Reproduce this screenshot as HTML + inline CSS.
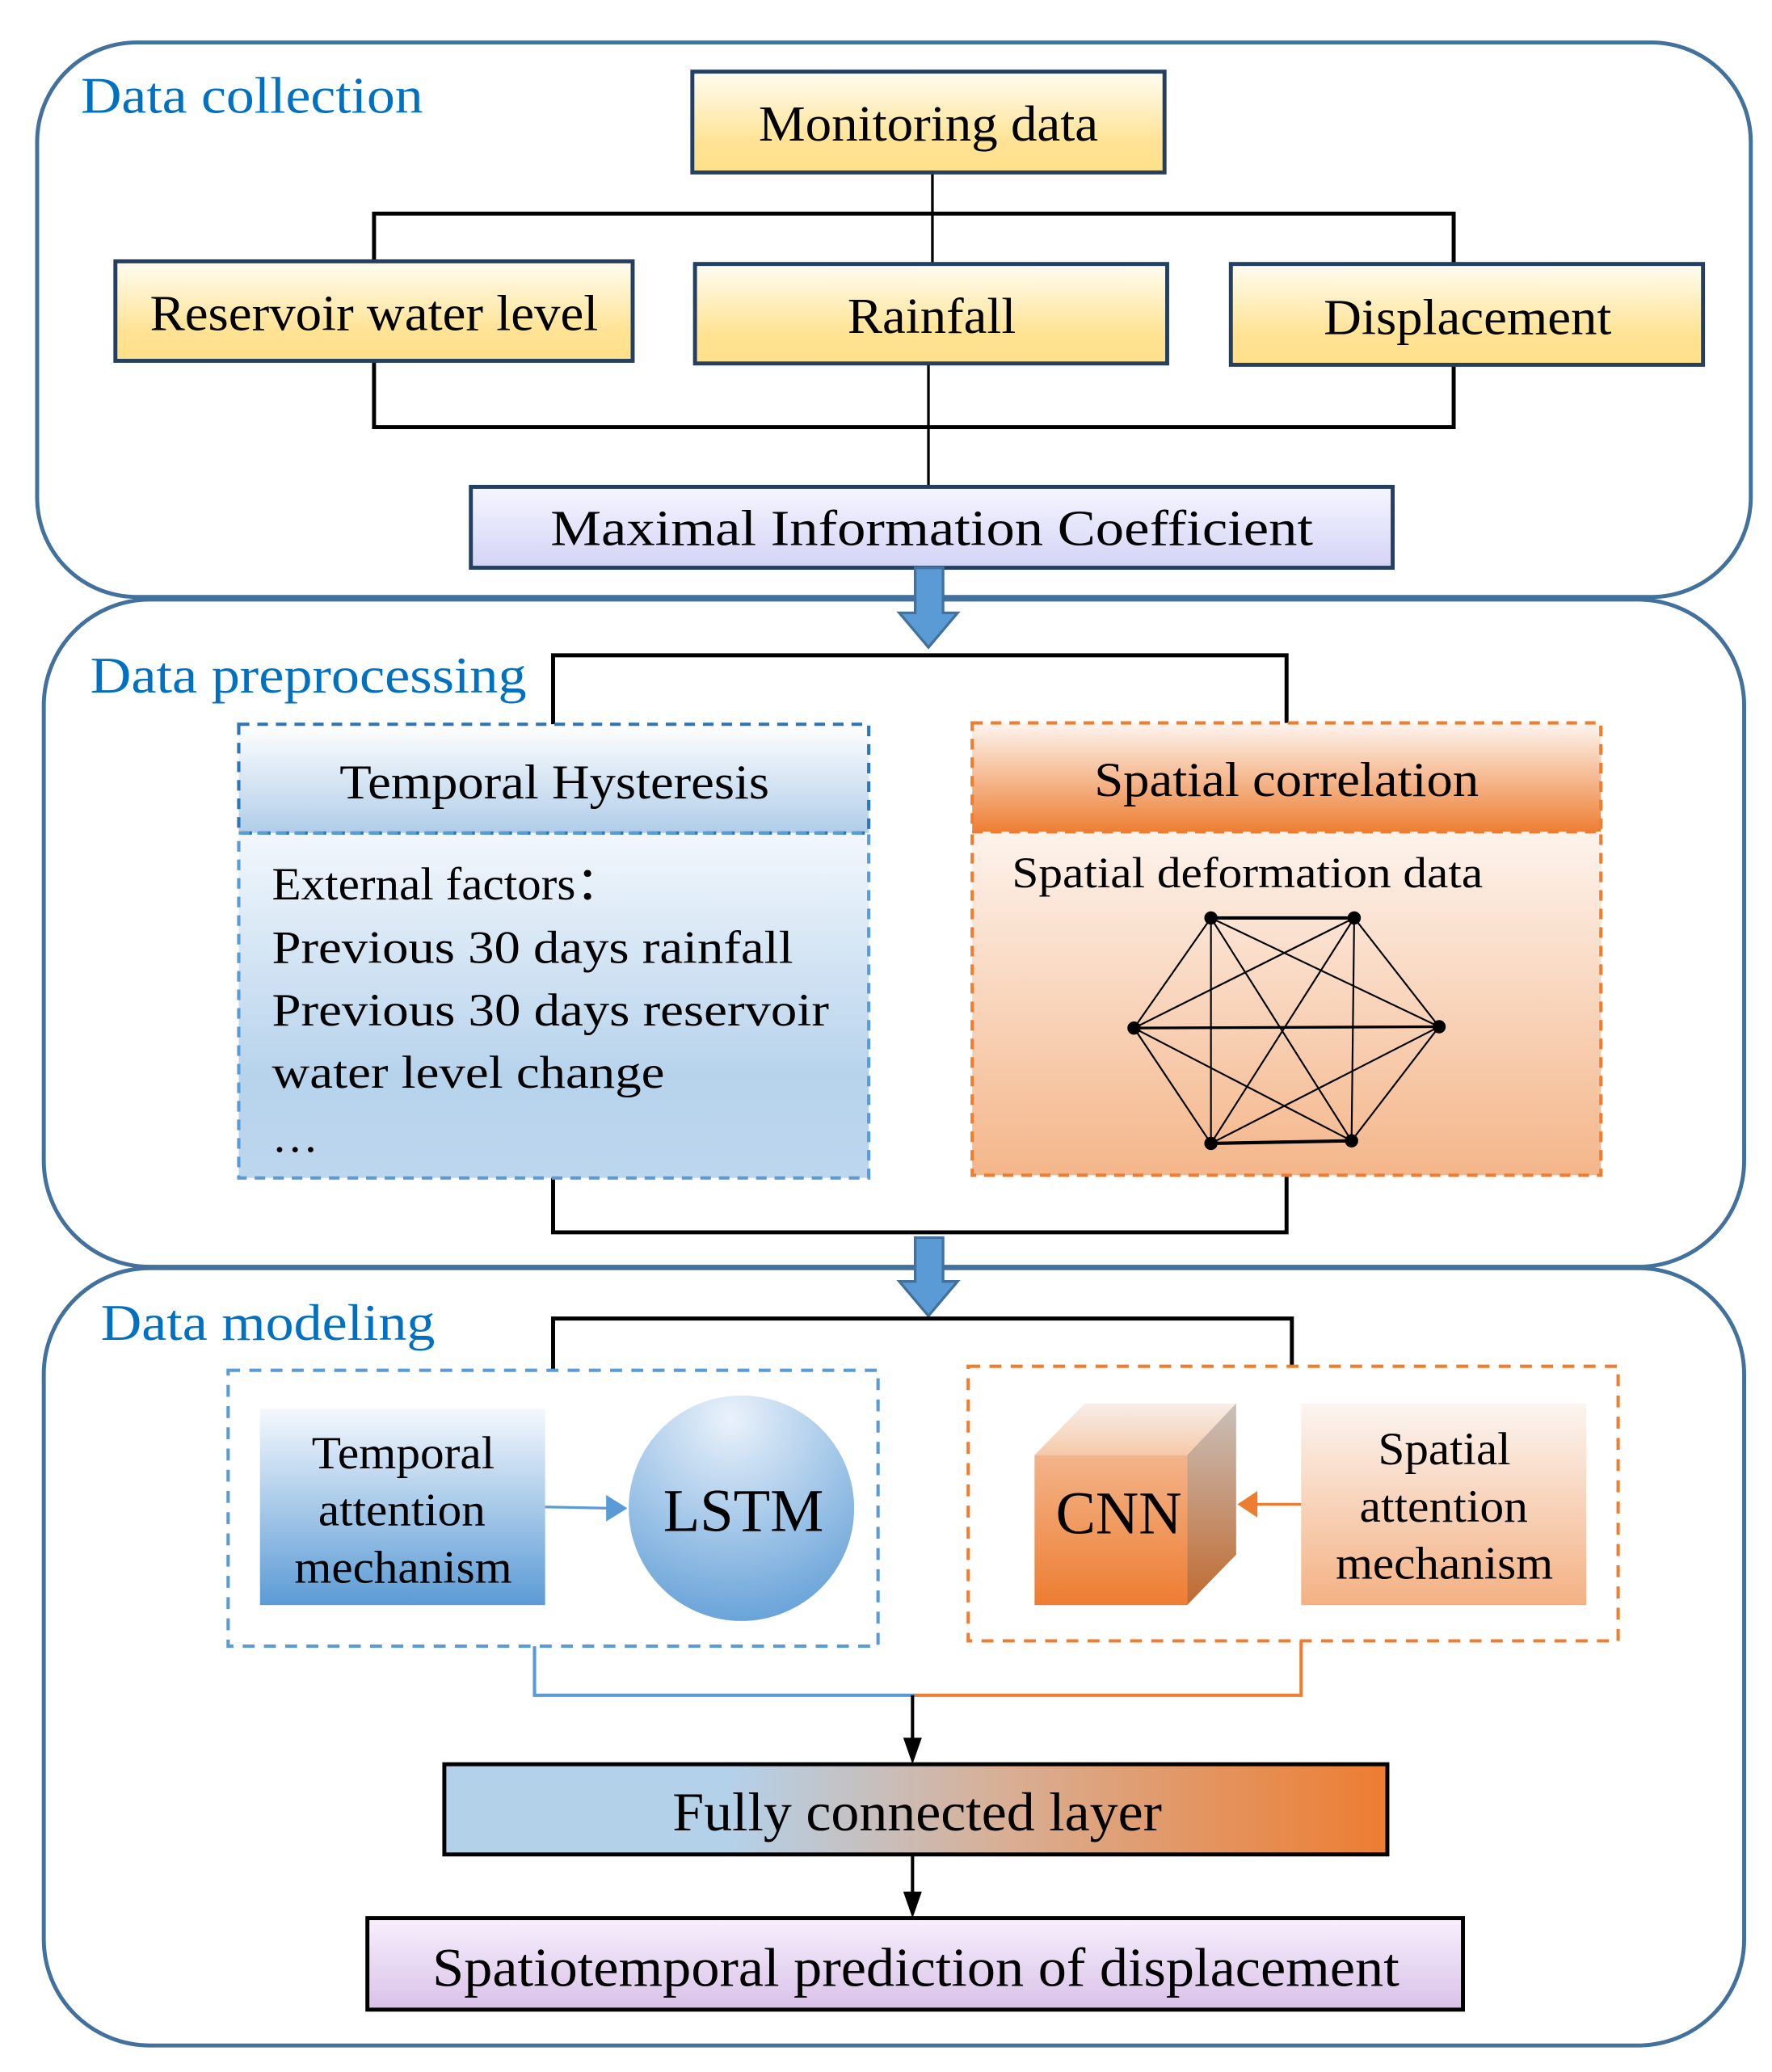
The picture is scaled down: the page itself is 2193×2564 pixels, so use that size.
<!DOCTYPE html>
<html><head><meta charset="utf-8"><style>
html,body{margin:0;padding:0;background:#fff}
svg{display:block}
text{font-family:"Liberation Serif",serif}
</style></head><body>
<svg width="2193" height="2564" viewBox="0 0 1336 1562" xmlns="http://www.w3.org/2000/svg">
<defs>
<linearGradient id="yel" x1="0" y1="0" x2="0" y2="1"><stop offset="0" stop-color="#fffdf2"/><stop offset="0.7" stop-color="#ffe394"/><stop offset="1" stop-color="#ffe08a"/></linearGradient>
<linearGradient id="lav" x1="0" y1="0" x2="0" y2="1"><stop offset="0" stop-color="#f6f6ff"/><stop offset="1" stop-color="#d3d3f6"/></linearGradient>
<linearGradient id="bhead" x1="0" y1="0" x2="0" y2="1"><stop offset="0" stop-color="#ffffff"/><stop offset="1" stop-color="#b0cde8"/></linearGradient>
<linearGradient id="bbody" x1="0" y1="0" x2="0" y2="1"><stop offset="0" stop-color="#f2f7fc"/><stop offset="0.7" stop-color="#b7d3ec"/><stop offset="1" stop-color="#bdd6ee"/></linearGradient>
<linearGradient id="ohead" x1="0" y1="0" x2="0" y2="1"><stop offset="0" stop-color="#fdf5f0"/><stop offset="1" stop-color="#ee7f34"/></linearGradient>
<linearGradient id="obody" x1="0" y1="0" x2="0" y2="1"><stop offset="0" stop-color="#fdf3ec"/><stop offset="1" stop-color="#f4b68a"/></linearGradient>
<linearGradient id="tatt" x1="0" y1="0" x2="0" y2="1"><stop offset="0" stop-color="#f4f8fd"/><stop offset="1" stop-color="#5b9bd5"/></linearGradient>
<radialGradient id="lstm" cx="0.45" cy="0.1" r="1"><stop offset="0" stop-color="#eaf2fb"/><stop offset="1" stop-color="#5b9bd5"/></radialGradient>
<linearGradient id="satt" x1="0" y1="0" x2="0" y2="1"><stop offset="0" stop-color="#fbf5f1"/><stop offset="1" stop-color="#f4b183"/></linearGradient>
<linearGradient id="cfront" x1="0" y1="0" x2="0" y2="1"><stop offset="0" stop-color="#f3b48a"/><stop offset="1" stop-color="#ed7d31"/></linearGradient>
<linearGradient id="ctop" x1="0" y1="0" x2="0" y2="1"><stop offset="0" stop-color="#f7eee9"/><stop offset="1" stop-color="#f5c9a9"/></linearGradient>
<linearGradient id="cside" x1="0" y1="0" x2="0" y2="1"><stop offset="0" stop-color="#c9c0ba"/><stop offset="1" stop-color="#c06a30"/></linearGradient>
<linearGradient id="fc" x1="0" y1="0" x2="1" y2="0"><stop offset="0" stop-color="#b4d1ea"/><stop offset="0.3" stop-color="#b4d1ea"/><stop offset="0.6" stop-color="#d9ae93"/><stop offset="1" stop-color="#ed7d31"/></linearGradient>
<linearGradient id="pur" x1="0" y1="0" x2="0" y2="1"><stop offset="0" stop-color="#f7f0fc"/><stop offset="1" stop-color="#d9c1e8"/></linearGradient>
</defs>

<rect x="28" y="32" width="1292" height="418" rx="75" fill="#fff" stroke="#41719c" stroke-width="3"/>
<rect x="33" y="452" width="1282" height="503" rx="80" fill="#fff" stroke="#41719c" stroke-width="3"/>
<rect x="33" y="956" width="1282" height="586" rx="80" fill="#fff" stroke="#41719c" stroke-width="3"/>

<g fill="#0070c0" font-size="39">
<text x="61" y="85" textLength="258" lengthAdjust="spacingAndGlyphs">Data collection</text>
<text x="68" y="522" textLength="329" lengthAdjust="spacingAndGlyphs">Data preprocessing</text>
<text x="76" y="1010" textLength="252" lengthAdjust="spacingAndGlyphs">Data modeling</text>
</g>

<g stroke="#000" fill="none">
<line x1="703" y1="130" x2="703" y2="199" stroke-width="2"/>
<polyline points="282,197 282,161 1096,161 1096,199" stroke-width="3"/>
<polyline points="282,272 282,322 1096,322 1096,275" stroke-width="3"/>
<line x1="700" y1="274" x2="700" y2="367" stroke-width="2"/>
</g>
<g stroke="#243f60" stroke-width="3">
<rect x="522" y="54" width="356" height="76" fill="url(#yel)"/>
<rect x="87" y="197" width="390" height="75" fill="url(#yel)"/>
<rect x="524" y="199" width="356" height="75" fill="url(#yel)"/>
<rect x="928" y="199" width="356" height="76" fill="url(#yel)"/>
<rect x="355" y="367" width="695" height="61" fill="url(#lav)"/>
</g>
<g font-size="38" fill="#000">
<text x="572" y="106" textLength="256" lengthAdjust="spacingAndGlyphs">Monitoring data</text>
<text x="113" y="249" textLength="338" lengthAdjust="spacingAndGlyphs">Reservoir water level</text>
<text x="639" y="251" textLength="127" lengthAdjust="spacingAndGlyphs">Rainfall</text>
<text x="998" y="252" textLength="217" lengthAdjust="spacingAndGlyphs">Displacement</text>
<text x="415" y="411" textLength="575" lengthAdjust="spacingAndGlyphs">Maximal Information Coefficient</text>
</g>

<polygon points="690,428 711,428 711,462 722,462 700,488 678,462 690,462" fill="#5b9bd5" stroke="#41719c" stroke-width="2"/>
<polygon points="690,933 711,933 711,966 722,966 700,992 678,966 690,966" fill="#5b9bd5" stroke="#41719c" stroke-width="2"/>

<g stroke="#000" stroke-width="3" fill="none">
<polyline points="417,546 417,494 970,494 970,545"/>
<polyline points="417,888 417,929 970,929 970,886"/>
</g>
<rect x="180" y="546" width="475" height="82" fill="url(#bhead)"/>
<rect x="180" y="628" width="475" height="260" fill="url(#bbody)"/>
<g fill="none" stroke-dasharray="8,6" stroke-width="2.5">
<rect x="180" y="546" width="475" height="82" stroke="#2e75b6"/>
<rect x="180" y="628" width="475" height="260" stroke="#5b9bd5"/>
</g>
<rect x="733" y="545" width="474" height="82" fill="url(#ohead)"/>
<rect x="733" y="627" width="474" height="259" fill="url(#obody)"/>
<g fill="none" stroke="#ed7d31" stroke-dasharray="8,6" stroke-width="2.5">
<rect x="733" y="545" width="474" height="82"/>
<rect x="733" y="627" width="474" height="259"/>
</g>
<g font-size="37">
<text x="256" y="602" textLength="324" lengthAdjust="spacingAndGlyphs">Temporal Hysteresis</text>
<text x="825" y="600" textLength="290" lengthAdjust="spacingAndGlyphs">Spatial correlation</text>
</g>
<g font-size="35">
<text x="205" y="678" textLength="265" lengthAdjust="spacingAndGlyphs">External factors：</text>
<text x="205" y="726" textLength="393" lengthAdjust="spacingAndGlyphs">Previous 30 days rainfall</text>
<text x="205" y="773" textLength="420" lengthAdjust="spacingAndGlyphs">Previous 30 days reservoir</text>
<text x="205" y="820" textLength="296" lengthAdjust="spacingAndGlyphs">water level change</text>
<text x="205" y="868">…</text>
</g>
<text x="763" y="669" font-size="33" textLength="355" lengthAdjust="spacingAndGlyphs">Spatial deformation data</text>
<g stroke="#000" stroke-width="1.3">
<line x1="913" y1="692" x2="1021" y2="692" stroke-width="2.5"/>
<line x1="913" y1="692" x2="855" y2="775"/><line x1="913" y1="692" x2="1085" y2="774"/>
<line x1="913" y1="692" x2="913" y2="862"/><line x1="913" y1="692" x2="1019" y2="860"/>
<line x1="1021" y1="692" x2="855" y2="775"/><line x1="1021" y1="692" x2="1085" y2="774"/>
<line x1="1021" y1="692" x2="913" y2="862"/><line x1="1021" y1="692" x2="1019" y2="860"/>
<line x1="855" y1="775" x2="1085" y2="774" stroke-width="2"/><line x1="855" y1="775" x2="913" y2="862"/>
<line x1="855" y1="775" x2="1019" y2="860"/><line x1="1085" y1="774" x2="913" y2="862"/>
<line x1="1085" y1="774" x2="1019" y2="860"/><line x1="913" y1="862" x2="1019" y2="860" stroke-width="2.5"/>
</g>
<g fill="#000">
<circle cx="913" cy="692" r="5"/><circle cx="1021" cy="692" r="5"/><circle cx="855" cy="775" r="5"/>
<circle cx="1085" cy="774" r="5"/><circle cx="913" cy="862" r="5"/><circle cx="1019" cy="860" r="5"/>
</g>

<polyline points="417,1033 417,994 974,994 974,1030" stroke="#000" stroke-width="3" fill="none"/>
<rect x="172" y="1033" width="490" height="208" fill="none" stroke="#5b9bd5" stroke-width="2.5" stroke-dasharray="9,7"/>
<rect x="730" y="1030" width="490" height="207" fill="none" stroke="#ed7d31" stroke-width="2.5" stroke-dasharray="9,7"/>
<rect x="196" y="1062" width="215" height="148" fill="url(#tatt)"/>
<g font-size="35">
<text x="235" y="1107" textLength="138" lengthAdjust="spacingAndGlyphs">Temporal</text>
<text x="240" y="1150" textLength="126" lengthAdjust="spacingAndGlyphs">attention</text>
<text x="222" y="1193" textLength="164" lengthAdjust="spacingAndGlyphs">mechanism</text>
</g>
<line x1="411" y1="1136" x2="460" y2="1137" stroke="#5b9bd5" stroke-width="2"/>
<polygon points="457,1127 473,1137 457,1147" fill="#5b9bd5"/>
<circle cx="559" cy="1137" r="85" fill="url(#lstm)"/>
<text x="500" y="1154" font-size="46" textLength="121" lengthAdjust="spacingAndGlyphs">LSTM</text>

<polygon points="780,1097 818,1058 932,1058 895,1097" fill="url(#ctop)"/>
<polygon points="895,1097 932,1058 932,1172 895,1210" fill="url(#cside)"/>
<rect x="780" y="1097" width="115" height="113" fill="url(#cfront)"/>
<text x="796" y="1156" font-size="46" textLength="95" lengthAdjust="spacingAndGlyphs">CNN</text>
<line x1="981" y1="1134" x2="945" y2="1134" stroke="#ed7d31" stroke-width="2"/>
<polygon points="948,1124 933,1134 948,1144" fill="#ed7d31"/>
<rect x="981" y="1058" width="215" height="152" fill="url(#satt)"/>
<g font-size="35">
<text x="1039" y="1104" textLength="100" lengthAdjust="spacingAndGlyphs">Spatial</text>
<text x="1025" y="1147" textLength="127" lengthAdjust="spacingAndGlyphs">attention</text>
<text x="1007" y="1190" textLength="164" lengthAdjust="spacingAndGlyphs">mechanism</text>
</g>

<polyline points="403,1241 403,1278 690,1278" stroke="#5b9bd5" stroke-width="2.5" fill="none"/>
<polyline points="981,1237 981,1278 690,1278" stroke="#ed7d31" stroke-width="2.5" fill="none"/>
<line x1="688" y1="1278" x2="688" y2="1312" stroke="#000" stroke-width="2.5"/>
<polygon points="681,1310 688,1330 695,1310" fill="#000"/>
<rect x="335" y="1330" width="711" height="68" fill="url(#fc)" stroke="#000" stroke-width="3"/>
<text x="507" y="1380" font-size="41" textLength="369" lengthAdjust="spacingAndGlyphs">Fully connected layer</text>
<line x1="688" y1="1398" x2="688" y2="1428" stroke="#000" stroke-width="2.5"/>
<polygon points="681,1426 688,1446 695,1426" fill="#000"/>
<rect x="277" y="1446" width="826" height="69" fill="url(#pur)" stroke="#000" stroke-width="3"/>
<text x="326" y="1497" font-size="41" textLength="729" lengthAdjust="spacingAndGlyphs">Spatiotemporal prediction of displacement</text>
</svg>
</body></html>
